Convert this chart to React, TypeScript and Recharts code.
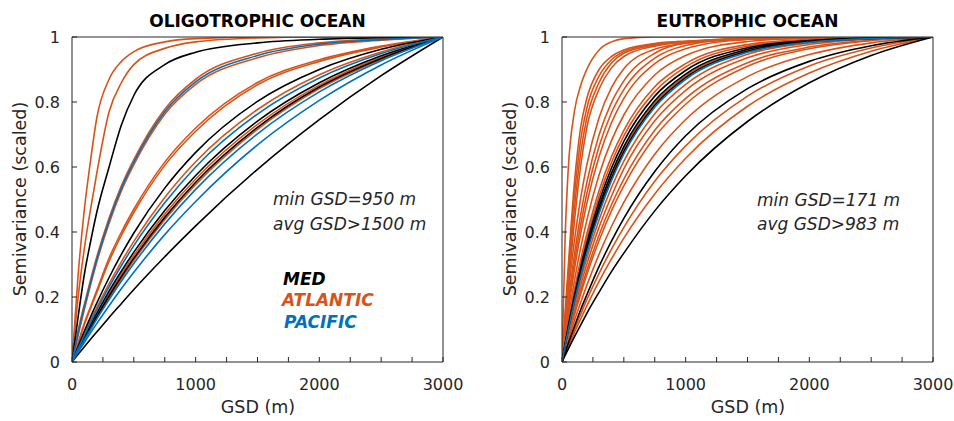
import { LineChart, Line, XAxis, YAxis } from 'recharts';

const FONT = '"DejaVu Sans", sans-serif';
const AXIS = '#262626';
const MED = '#000000';
const ATLANTIC = '#D95319';
const PACIFIC = '#0072BD';

const xTicks = [0, 250, 500, 750, 1000, 1250, 1500, 1750, 2000, 2250, 2500, 2750, 3000];
const yTicks = [0, 0.2, 0.4, 0.6, 0.8, 1];

// ---- oligotrophic ocean: GSD grid and scaled semivariance per curve
const oligoGsd = [0, 50, 100, 150, 200, 300, 400, 500, 750, 1000, 1500, 2000, 2500, 3000];

const oligoAtlantic = [
  [0, 0.27, 0.47, 0.62, 0.75, 0.87, 0.925, 0.955, 0.985, 0.995, 1, 1, 1, 1],
  [0, 0.2, 0.35, 0.47, 0.58, 0.77, 0.86, 0.915, 0.965, 0.985, 0.997, 1, 1, 1],
  [0, 0.098, 0.178, 0.253, 0.323, 0.443, 0.543, 0.623, 0.778, 0.87, 0.95, 0.982, 0.994, 1],
  [0, 0.082, 0.162, 0.237, 0.307, 0.427, 0.527, 0.607, 0.762, 0.854, 0.936, 0.974, 0.99, 1],
  [0, 0.06, 0.12, 0.17, 0.22, 0.32, 0.4, 0.47, 0.615, 0.72, 0.86, 0.93, 0.972, 1],
  [0, 0.057, 0.115, 0.165, 0.213, 0.31, 0.39, 0.46, 0.605, 0.71, 0.853, 0.925, 0.969, 1],
  [0, 0.044, 0.087, 0.128, 0.167, 0.241, 0.309, 0.371, 0.506, 0.616, 0.777, 0.884, 0.954, 1],
  [0, 0.038, 0.075, 0.11, 0.144, 0.21, 0.271, 0.328, 0.455, 0.563, 0.731, 0.852, 0.938, 1],
  [0, 0.035, 0.069, 0.103, 0.135, 0.198, 0.257, 0.313, 0.438, 0.546, 0.716, 0.841, 0.931, 1],
];

const oligoMed = [
  [0, 0.14, 0.27, 0.37, 0.46, 0.6, 0.73, 0.82, 0.915, 0.953, 0.982, 0.993, 0.998, 1],
  [0, 0.048, 0.095, 0.139, 0.181, 0.26, 0.332, 0.397, 0.535, 0.645, 0.802, 0.9, 0.962, 1],
  [0, 0.04, 0.078, 0.115, 0.15, 0.218, 0.28, 0.338, 0.466, 0.574, 0.741, 0.859, 0.942, 1],
  [0, 0.036, 0.071, 0.106, 0.139, 0.203, 0.263, 0.319, 0.445, 0.553, 0.722, 0.846, 0.934, 1],
  [0, 0.024, 0.047, 0.07, 0.092, 0.137, 0.18, 0.223, 0.324, 0.419, 0.593, 0.746, 0.881, 1],
];

const oligoPacific = [
  [0, 0.09, 0.17, 0.245, 0.315, 0.435, 0.535, 0.615, 0.77, 0.862, 0.943, 0.978, 0.992, 1],
  [0, 0.042, 0.083, 0.122, 0.16, 0.231, 0.297, 0.358, 0.49, 0.6, 0.763, 0.874, 0.949, 1],
  [0, 0.034, 0.068, 0.1, 0.132, 0.192, 0.249, 0.303, 0.425, 0.531, 0.702, 0.831, 0.927, 1],
  [0, 0.031, 0.06, 0.09, 0.118, 0.173, 0.226, 0.276, 0.392, 0.494, 0.668, 0.805, 0.914, 1],
];

// ---- eutrophic ocean
const eutroGsd = [0, 25, 50, 100, 150, 200, 300, 400, 500, 750, 1000, 1500, 2000, 2500, 3000];

const eutroAtlantic = [
  [0, 0.38, 0.59, 0.77, 0.85, 0.9, 0.96, 0.985, 0.995, 1, 1, 1, 1, 1, 1],
  [0, 0.15, 0.29, 0.55, 0.72, 0.81, 0.9, 0.94, 0.96, 0.98, 0.987, 0.993, 0.997, 0.999, 1],
  [0, 0.14, 0.27, 0.51, 0.68, 0.78, 0.88, 0.93, 0.955, 0.978, 0.987, 0.994, 0.997, 0.999, 1],
  [0, 0.13, 0.25, 0.47, 0.64, 0.75, 0.86, 0.92, 0.95, 0.975, 0.985, 0.993, 0.997, 0.999, 1],
  [0, 0.12, 0.23, 0.43, 0.6, 0.72, 0.84, 0.905, 0.94, 0.972, 0.984, 0.993, 0.997, 0.999, 1],
  [0, 0.11, 0.208, 0.372, 0.502, 0.605, 0.752, 0.844, 0.902, 0.962, 0.98, 0.993, 0.997, 0.999, 1],
  [0, 0.095, 0.181, 0.33, 0.451, 0.551, 0.699, 0.798, 0.865, 0.95, 0.982, 0.997, 0.999, 1, 1],
  [0, 0.087, 0.166, 0.305, 0.42, 0.517, 0.664, 0.767, 0.838, 0.935, 0.974, 0.996, 0.999, 1, 1],
  [0, 0.08, 0.154, 0.283, 0.393, 0.487, 0.632, 0.736, 0.811, 0.918, 0.964, 0.993, 0.999, 1, 1],
  [0, 0.069, 0.133, 0.249, 0.349, 0.435, 0.576, 0.681, 0.76, 0.883, 0.943, 0.986, 0.997, 0.999, 1],
  [0, 0.061, 0.118, 0.221, 0.313, 0.393, 0.528, 0.632, 0.713, 0.847, 0.918, 0.977, 0.993, 0.998, 1],
  [0, 0.058, 0.112, 0.212, 0.3, 0.379, 0.51, 0.614, 0.696, 0.832, 0.908, 0.972, 0.991, 0.997, 1],
  [0, 0.052, 0.101, 0.191, 0.273, 0.347, 0.472, 0.573, 0.655, 0.797, 0.88, 0.959, 0.986, 0.995, 1],
  [0, 0.047, 0.092, 0.175, 0.251, 0.319, 0.438, 0.537, 0.618, 0.764, 0.854, 0.947, 0.982, 0.995, 1],
  [0, 0.044, 0.085, 0.164, 0.235, 0.3, 0.415, 0.51, 0.594, 0.742, 0.836, 0.936, 0.977, 0.994, 1],
  [0, 0.04, 0.079, 0.152, 0.219, 0.281, 0.391, 0.484, 0.563, 0.713, 0.811, 0.921, 0.969, 0.99, 1],
  [0, 0.039, 0.075, 0.144, 0.208, 0.268, 0.374, 0.465, 0.542, 0.692, 0.793, 0.91, 0.964, 0.989, 1],
  [0, 0.033, 0.065, 0.126, 0.182, 0.235, 0.332, 0.417, 0.491, 0.639, 0.746, 0.878, 0.946, 0.982, 1],
  [0, 0.026, 0.051, 0.1, 0.146, 0.191, 0.273, 0.347, 0.414, 0.556, 0.665, 0.818, 0.911, 0.966, 1],
  [0, 0.023, 0.046, 0.09, 0.132, 0.172, 0.248, 0.317, 0.381, 0.517, 0.627, 0.787, 0.889, 0.956, 1],
];

const eutroMed = [
  [0, 0.055, 0.108, 0.203, 0.289, 0.365, 0.494, 0.597, 0.679, 0.818, 0.897, 0.967, 0.989, 0.997, 1],
  [0, 0.053, 0.103, 0.195, 0.278, 0.353, 0.479, 0.581, 0.663, 0.804, 0.886, 0.962, 0.987, 0.996, 1],
  [0, 0.051, 0.099, 0.188, 0.268, 0.341, 0.465, 0.565, 0.647, 0.79, 0.875, 0.956, 0.985, 0.995, 1],
  [0, 0.028, 0.056, 0.109, 0.16, 0.206, 0.294, 0.372, 0.442, 0.586, 0.696, 0.841, 0.925, 0.973, 1],
  [0, 0.02, 0.039, 0.077, 0.113, 0.149, 0.215, 0.278, 0.335, 0.465, 0.573, 0.74, 0.859, 0.943, 1],
];

const eutroPacific = [
  [0, 0.05, 0.097, 0.185, 0.264, 0.335, 0.458, 0.558, 0.64, 0.784, 0.87, 0.953, 0.984, 0.995, 1],
];

type Curve = { color: string; values: number[] };

function curves(atl: number[][], med: number[][], pac: number[][]): Curve[] {
  return [
    ...atl.map((values) => ({ color: ATLANTIC, values })),
    ...med.map((values) => ({ color: MED, values })),
    ...pac.map((values) => ({ color: PACIFIC, values })),
  ];
}

interface PanelProps {
  gsd: number[];
  series: Curve[];
  width: number;
  rightWidth: number;
}

function Panel({ gsd, series, width, rightWidth }: PanelProps) {
  const rows = gsd.map((g, i) => {
    const row: Record<string, number> = { gsd: g };
    series.forEach((s, k) => {
      row['c' + k] = s.values[i];
    });
    return row;
  });
  const tickStyle = { fill: AXIS, fontSize: 16, fontFamily: FONT };

  return (
    <LineChart width={width} height={421} data={rows} margin={{ top: 0, right: 0, bottom: 0, left: 0 }}>
      <XAxis
        dataKey="gsd"
        type="number"
        domain={[0, 3000]}
        ticks={xTicks}
        interval={0}
        tickFormatter={(v: number) => (v % 1000 === 0 ? String(v) : '')}
        tickSize={-5}
        tickMargin={22}
        height={59}
        stroke={AXIS}
        tick={tickStyle}
        allowDataOverflow
      />
      <XAxis
        xAxisId="top"
        orientation="top"
        type="number"
        domain={[0, 3000]}
        ticks={xTicks}
        interval={0}
        tick={false}
        tickSize={-5}
        height={37}
        stroke={AXIS}
        allowDataOverflow
      />
      <YAxis
        type="number"
        domain={[0, 1]}
        ticks={yTicks}
        interval={0}
        tickSize={-5}
        tickMargin={17}
        width={72}
        stroke={AXIS}
        tick={tickStyle}
        allowDataOverflow
      />
      <YAxis
        yAxisId="right"
        orientation="right"
        type="number"
        domain={[0, 1]}
        ticks={yTicks}
        interval={0}
        tick={false}
        tickSize={-5}
        width={rightWidth}
        stroke={AXIS}
        allowDataOverflow
      />
      {series.map((s, k) => (
        <Line
          key={k}
          dataKey={'c' + k}
          type="monotone"
          stroke={s.color}
          strokeWidth={1.6}
          dot={false}
          activeDot={false}
          isAnimationActive={false}
        />
      ))}
    </LineChart>
  );
}

export default function App() {
  const text = { fontFamily: FONT, fill: AXIS };
  return (
    <div style={{ position: 'absolute', left: 0, top: 0, width: 954, height: 421, background: '#fff' }}>
      <div style={{ position: 'absolute', left: 0, top: 0 }}>
        <Panel gsd={oligoGsd} series={curves(oligoAtlantic, oligoMed, oligoPacific)} width={477} rightWidth={34} />
      </div>
      <div style={{ position: 'absolute', left: 490, top: 0 }}>
        <Panel gsd={eutroGsd} series={curves(eutroAtlantic, eutroMed, eutroPacific)} width={464} rightWidth={21} />
      </div>
      <svg
        width={954}
        height={421}
        style={{ position: 'absolute', left: 0, top: 0, pointerEvents: 'none' }}
      >
        <text x={257.5} y={27} textAnchor="middle" fontSize={17} fontWeight="bold" fontFamily={FONT} fill="#000">
          OLIGOTROPHIC OCEAN
        </text>
        <text x={747.5} y={27} textAnchor="middle" fontSize={17} fontWeight="bold" fontFamily={FONT} fill="#000">
          EUTROPHIC OCEAN
        </text>

        <text x={258} y={413} textAnchor="middle" fontSize={17.5} {...text}>GSD (m)</text>
        <text x={748} y={413} textAnchor="middle" fontSize={17.5} {...text}>GSD (m)</text>
        <text transform="translate(26,199) rotate(-90)" textAnchor="middle" fontSize={17.5} {...text}>
          Semivariance (scaled)
        </text>
        <text transform="translate(516,199) rotate(-90)" textAnchor="middle" fontSize={17.5} {...text}>
          Semivariance (scaled)
        </text>

        <text x={273} y={205} fontSize={17} fontStyle="italic" {...text}>min GSD=950 m</text>
        <text x={273} y={230} fontSize={17} fontStyle="italic" {...text}>avg GSD&gt;1500 m</text>
        <text x={757} y={206} fontSize={17} fontStyle="italic" {...text}>min GSD=171 m</text>
        <text x={757} y={230} fontSize={17} fontStyle="italic" {...text}>avg GSD&gt;983 m</text>

        <text x={283} y={285} fontSize={17} fontStyle="italic" fontWeight="bold" fontFamily={FONT} fill={MED}>MED</text>
        <text x={282} y={306} fontSize={17} fontStyle="italic" fontWeight="bold" fontFamily={FONT} fill={ATLANTIC}>ATLANTIC</text>
        <text x={284} y={328} fontSize={17} fontStyle="italic" fontWeight="bold" fontFamily={FONT} fill={PACIFIC}>PACIFIC</text>
      </svg>
    </div>
  );
}
